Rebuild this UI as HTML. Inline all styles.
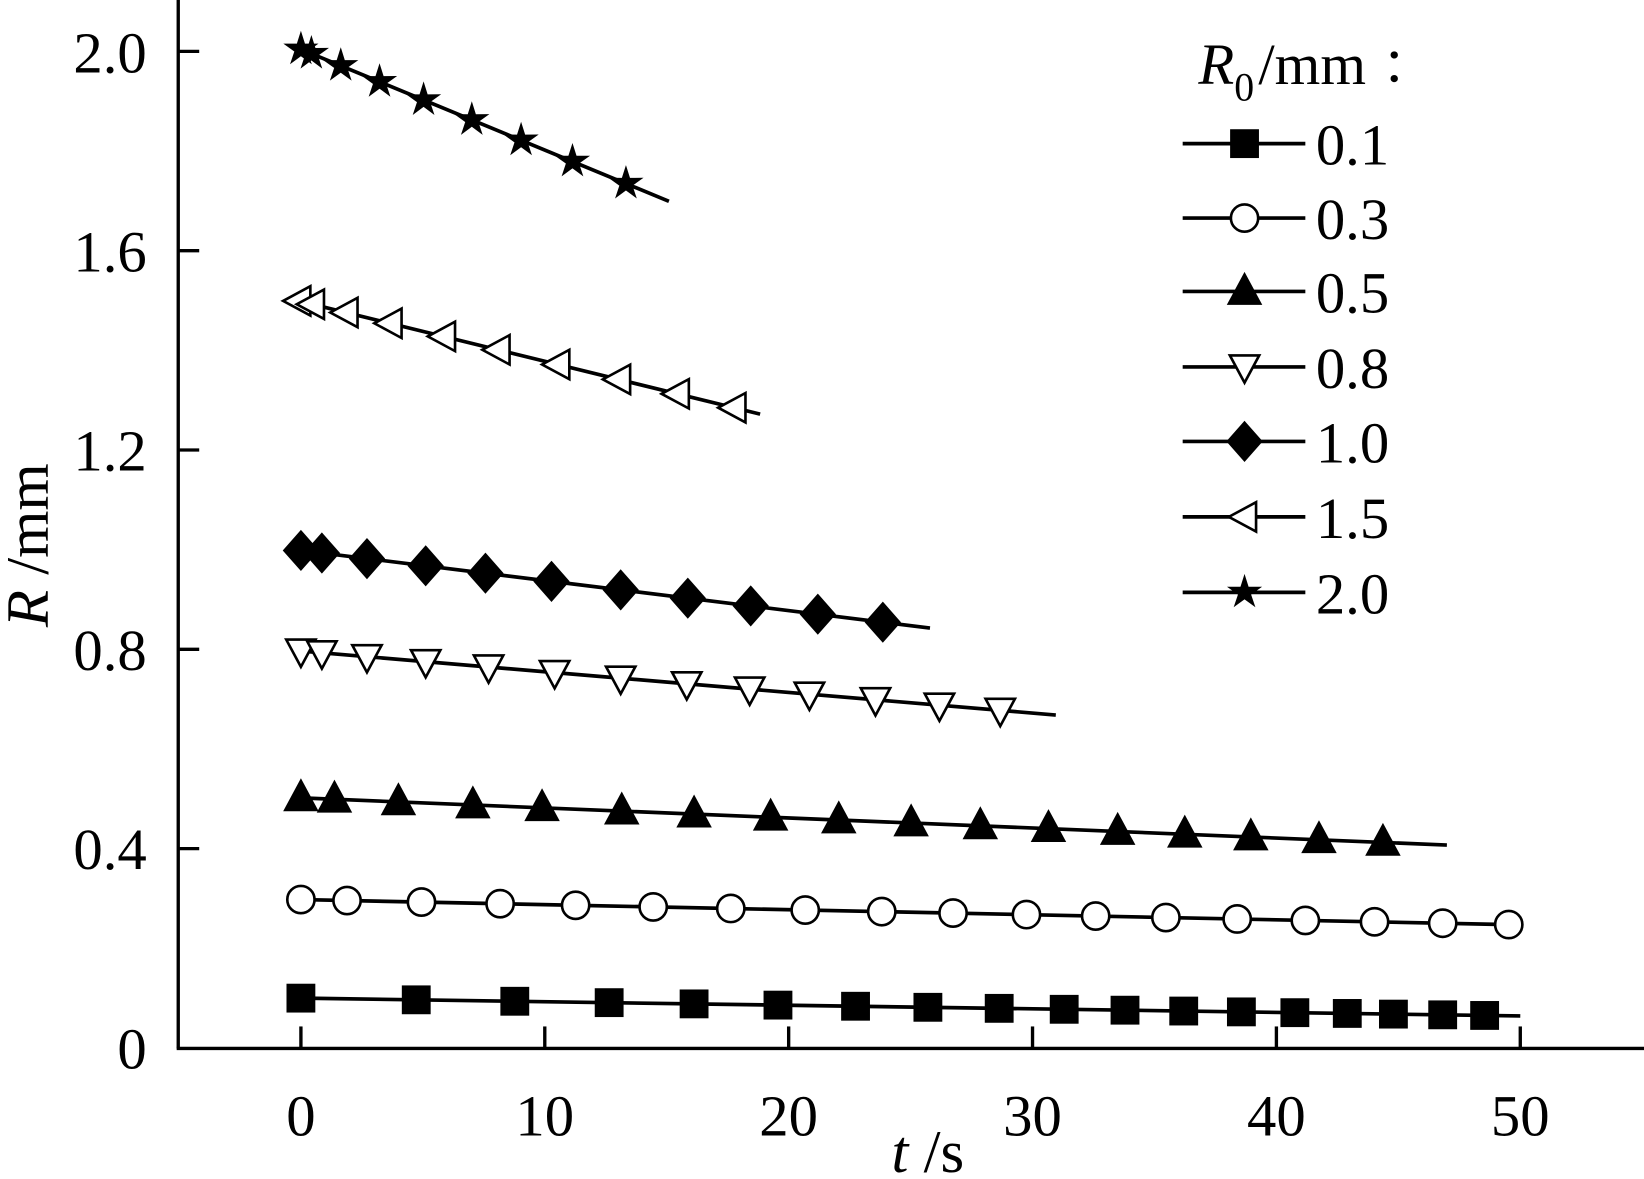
<!DOCTYPE html>
<html><head><meta charset="utf-8">
<style>html,body{margin:0;padding:0;background:#fff;}svg{display:block;}
text{font-family:"Liberation Serif","Noto Serif CJK SC",serif;fill:#000;}</style></head>
<body>
<svg id="s" width="1644" height="1179" viewBox="0 0 1568 1124.5" preserveAspectRatio="none" xmlns="http://www.w3.org/2000/svg">
<rect width="1568" height="1125" fill="#fff"/>
<g stroke="#000" stroke-width="3.2" fill="none">
<line x1="170" y1="0" x2="170" y2="1000"/>
<line x1="168.5" y1="1000" x2="1568" y2="1000"/>
<line x1="287" y1="1000" x2="287" y2="979"/>
<line x1="519.6" y1="1000" x2="519.6" y2="979"/>
<line x1="752.2" y1="1000" x2="752.2" y2="979"/>
<line x1="984.8" y1="1000" x2="984.8" y2="979"/>
<line x1="1217.4" y1="1000" x2="1217.4" y2="979"/>
<line x1="1450" y1="1000" x2="1450" y2="979"/>
<line x1="170" y1="809.4" x2="190" y2="809.4"/>
<line x1="170" y1="619.3" x2="190" y2="619.3"/>
<line x1="170" y1="429.2" x2="190" y2="429.2"/>
<line x1="170" y1="239.1" x2="190" y2="239.1"/>
<line x1="170" y1="49" x2="190" y2="49"/>
</g>
<g font-size="56" text-anchor="end">
<text x="140" y="1019">0</text>
<text x="140" y="829">0.4</text>
<text x="140" y="639">0.8</text>
<text x="140" y="449">1.2</text>
<text x="140" y="259">1.6</text>
<text x="140" y="69">2.0</text>
</g>
<g font-size="56" text-anchor="middle">
<text x="287" y="1083">0</text>
<text x="519.6" y="1083">10</text>
<text x="752.2" y="1083">20</text>
<text x="984.8" y="1083">30</text>
<text x="1217.4" y="1083">40</text>
<text x="1450" y="1083">50</text>
</g>
<text x="885" y="1118" font-size="58" text-anchor="middle"><tspan font-style="italic">t</tspan> /s</text>
<text transform="translate(46,520) rotate(-90)" font-size="58" text-anchor="middle"><tspan font-style="italic">R</tspan> /mm</text>
<text x="1143" y="80" font-size="56"><tspan font-style="italic">R</tspan><tspan font-size="38" dy="16">0</tspan><tspan dy="-16" dx="4">/mm ：</tspan></text>
<g font-size="56">
<text x="1255" y="157">0.1</text>
<text x="1255" y="228">0.3</text>
<text x="1255" y="298">0.5</text>
<text x="1255" y="370">0.8</text>
<text x="1255" y="441">1.0</text>
<text x="1255" y="513">1.5</text>
<text x="1255" y="585">2.0</text>
</g>
<g id="g" stroke="#000" stroke-width="3.5"></g>
</svg>
<script>
var g=document.getElementById('g'),NS='http://www.w3.org/2000/svg';
function el(t,a){var e=document.createElementNS(NS,t);for(var k in a)e.setAttribute(k,a[k]);g.appendChild(e);return e;}
function mk(type,x,y){
 if(type=='sq')el('rect',{x:x-12,y:y-12,width:24,height:24,fill:'#000'});
 else if(type=='ci')el('circle',{cx:x,cy:y,r:13,fill:'#fff','stroke-width':2.5});
 else if(type=='tu')el('polygon',{points:(x)+','+(y-15)+' '+(x-14)+','+(y+11)+' '+(x+14)+','+(y+11),fill:'#000'});
 else if(type=='td')el('polygon',{points:(x)+','+(y+15)+' '+(x-14)+','+(y-11)+' '+(x+14)+','+(y-11),fill:'#fff','stroke-width':2.5});
 else if(type=='di')el('polygon',{points:(x)+','+(y-17)+' '+(x+15)+','+y+' '+(x)+','+(y+17)+' '+(x-15)+','+y,fill:'#000'});
 else if(type=='tl')el('polygon',{points:(x-15)+','+y+' '+(x+11)+','+(y-14)+' '+(x+11)+','+(y+14),fill:'#fff','stroke-width':2.5});
 else if(type=='st'){var p=[];for(var i=0;i<10;i++){var r=i%2?6:16,a=-Math.PI/2+i*Math.PI/5;p.push((x+r*Math.cos(a)).toFixed(1)+','+(y+r*Math.sin(a)).toFixed(1));}el('polygon',{points:p.join(' '),fill:'#000','stroke-width':1});}
}
var S=[
['sq',[287,397,491,581,662,742,816,885,953,1015,1073,1129,1184,1235,1285,1329,1376,1416],287,952,1450,969],
['ci',[287,331,402,477,549,623,697,768,841,909,979,1045,1112,1180,1245,1311,1376,1439],287,858,1445,882],
['tu',[287,319,380,451,517,593,662,735,800,869,935,1000,1066,1130,1193,1258,1319],287,761,1380,806],
['td',[287,307,350,406,466,529,592,655,715,772,835,896,954],287,621,1007,682],
['di',[287,307,350,406,463,526,592,656,716,780,842],287,525,887,599],
['tl',[285,298,330,372,423,475,532,590,646,700],285,287,725,395],
['st',[287,297,325,362,404,450,497,546,597],287,47,638,192]
];
var LY=[137,208,278,350,421,493,565];
S.forEach(function(s,i){
 var x0=s[2],y0=s[3],x1=s[4],y1=s[5];
 el('line',{x1:x0,y1:y0,x2:x1,y2:y1});
 s[1].forEach(function(x){mk(s[0],x,y0+(y1-y0)*(x-x0)/(x1-x0));});
 el('line',{x1:1128,y1:LY[i],x2:1245,y2:LY[i]});
 mk(s[0],1187,LY[i]);
});
</script>
</body></html>
